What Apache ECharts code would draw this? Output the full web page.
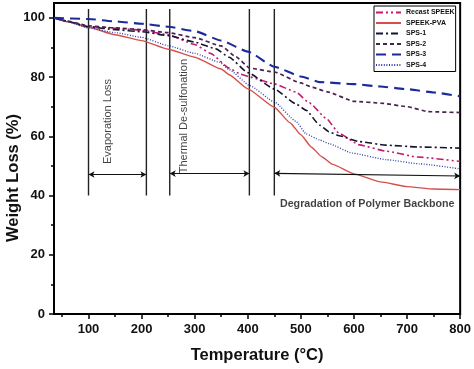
<!DOCTYPE html>
<html><head><meta charset="utf-8">
<script src="https://cdn.jsdelivr.net/npm/echarts@6/dist/echarts.min.js"></script>
<style>html,body{margin:0;padding:0;background:#fff}#c{width:474px;height:369px}</style>
</head><body><div id="c"></div>
<script>
// ---- data ----
const recastSpeek = [[35,100],[60,98.8],[100,97],[150,96.5],[200,95.8],[250,94.3],[300,91],[330,88],[365,83],[386,81],[404,80],[450,77.7],[490,75],[516,71.3],[548,66],[572,61],[610,57.1],[660,55],[720,53],[800,51.5]];
const speekPva = [[35,100],[60,98.7],[100,96.8],[150,94.3],[200,92.3],[250,89.4],[300,86.7],[350,82.7],[365,80.8],[400,76],[450,69.8],[480,64.5],[500,60.5],[520,56.3],[540,53],[560,50.5],[600,47.3],[650,44.6],[700,43],[750,42.2],[800,42]];
const sps1 = [[35,100],[60,98.8],[100,97],[150,96],[200,95.3],[250,94],[300,91.8],[340,89.5],[365,86.7],[400,81.5],[450,76],[490,71],[510,68.8],[535,63.8],[553,61.5],[572,60.2],[610,58.2],[660,57],[720,56.4],[800,56]];
const sps2 = [[35,100],[60,98.9],[100,97.3],[150,96.6],[200,96],[250,95],[300,93.3],[350,90.5],[378,86.8],[404,83],[450,81.7],[500,78],[522,76.5],[550,75],[600,71.8],[650,71.2],[700,70],[740,68.3],[800,68]];
const sps3 = [[35,100],[100,99.6],[150,98.8],[200,98],[250,97],[300,95.5],[350,92.3],[400,88.6],[450,83.5],[500,80.2],[535,78.3],[600,77.6],[650,76.8],[700,75.9],[750,74.8],[800,73.5]];
const sps4 = [[35,100],[60,98.6],[100,96.6],[150,95],[200,93.4],[250,90.6],[300,88],[347,85],[365,82.5],[404,77.1],[450,71.6],[491,65],[510,60.8],[535,58.8],[553,57.5],[597,54.3],[661,52.1],[723,50.7],[800,49]];

const seriesNames = ['Recast SPEEK','SPEEK-PVA','SPS-1','SPS-2','SPS-3','SPS-4'];
const xTicks = [100,200,300,400,500,600,700,800];
const xMinorTicks = [50,150,250,350,450,550,650,750];
const yTicks = [0,20,40,60,80,100];
const yMinorTicks = [10,30,50,70,90];

// region boundaries (temperature) and their vertical extent (weight %)
const regionLines = [100,209,253,403,450];
const regionLineRange = [40,103];
// double-headed arrows: [fromT, fromW, toT, toW]
const arrows = [[100,47.1,209,47.1],[253,47.4,403,47.4],[450,47.5,800,46.6]];
const annotations = [
  {text:'Evaporation Loss', pos:[137,65], rotate:90, bold:false},
  {text:'Thermal De-sulfonation', pos:[280,66.8], rotate:90, bold:false},
  {text:'Degradation of Polymer Backbone', pos:[625,37], rotate:0, bold:true}
];

const FONT = 'Liberation Sans, Arial, sans-serif';
const styles = [
  {color:'#c8186e', type:[7,3,2,3,2,3], width:1.6},
  {color:'#d4504c', type:'solid', width:1.4},
  {color:'#141430', type:[7,3,2,3], width:1.6},
  {color:'#4a2250', type:[4,3], width:1.7},
  {color:'#1c2a9a', type:[10,6], width:2.1},
  {color:'#2a3aaa', type:[1,1.6], width:1.3}
];
const dataSets = [recastSpeek, speekPva, sps1, sps2, sps3, sps4];

const series = dataSets.map((d,i)=>({
  name: seriesNames[i], type:'line', data:d, showSymbol:false, symbol:'none', legendIcon:'none',
  smooth:0.15, smoothMonotone:'x', xAxisIndex:0, yAxisIndex:0, z:3,
  lineStyle:{color:styles[i].color, type:styles[i].type, width:styles[i].width},
  itemStyle:{color:styles[i].color}
}));

regionLines.forEach(t=>{
  series.push({type:'line', data:[[t,regionLineRange[0]],[t,regionLineRange[1]]], showSymbol:false, symbol:'none',
    silent:true, z:2, lineStyle:{color:'#222', width:1.4}});
});

series.push({type:'line', data:[], silent:true, z:4,
  markLine:{silent:true, symbol:['arrow','arrow'], symbolSize:[5,6], label:{show:false},
    lineStyle:{color:'#111', width:1.2, type:'solid'},
    data: arrows.map(a=>[{coord:[a[0],a[1]]},{coord:[a[2],a[3]]}])}
});

annotations.forEach(a=>{
  series.push({type:'scatter', data:[a.pos], symbolSize:0, silent:true, z:5,
    label:{show:true, position:'inside', formatter:a.text, rotate:a.rotate, color:'#111',
      fontFamily:FONT, fontSize:a.bold?10.7:11, fontWeight:a.bold?'bold':'normal'}});
});

const chart = echarts.init(document.getElementById('c'));
chart.setOption({
  animation:false,
  backgroundColor:'#fff',
  grid:{left:54, right:13, top:3, bottom:51, show:true, borderColor:'#000', borderWidth:2, backgroundColor:'transparent'},
  legend:{
    data:seriesNames, orient:'vertical', left:374, top:6,
    borderColor:'#000', borderWidth:1, padding:[3,1,3,1],
    itemWidth:25, itemHeight:8, itemGap:3.5, backgroundColor:'#fff',
    itemStyle:{opacity:0, borderWidth:0},
    textStyle:{fontFamily:FONT, fontSize:7, fontWeight:'bold', color:'#111'}
  },
  xAxis:[{
    type:'value', min:35, max:800, gridIndex:0,
    name:'Temperature (\u00B0C)', nameLocation:'middle', nameGap:33,
    nameTextStyle:{fontFamily:FONT, fontSize:16.5, fontWeight:'bold', color:'#111'},
    axisLine:{show:true, lineStyle:{color:'#000', width:2}},
    axisTick:{show:true, inside:false, length:5, customValues:xTicks, lineStyle:{color:'#000', width:1.5}},
    axisLabel:{customValues:xTicks, margin:9, fontFamily:FONT, fontSize:13, fontWeight:'bold', color:'#111'},
    splitLine:{show:false}
  },{
    type:'value', min:35, max:800, gridIndex:0, position:'bottom',
    axisLine:{show:false},
    axisTick:{show:true, inside:false, length:3, customValues:xMinorTicks, lineStyle:{color:'#000', width:1.5}},
    axisLabel:{show:false}, splitLine:{show:false}
  }],
  yAxis:[{
    type:'value', min:0, max:105, gridIndex:0,
    axisLine:{show:true, lineStyle:{color:'#000', width:2}},
    axisTick:{show:true, inside:false, length:5, customValues:yTicks, lineStyle:{color:'#000', width:1.5}},
    axisLabel:{customValues:yTicks, margin:9, fontFamily:FONT, fontSize:13, fontWeight:'bold', color:'#111'},
    splitLine:{show:false}
  },{
    type:'value', min:0, max:105, gridIndex:0, position:'left',
    axisLine:{show:false},
    axisTick:{show:true, inside:false, length:3, customValues:yMinorTicks, lineStyle:{color:'#000', width:1.5}},
    axisLabel:{show:false}, splitLine:{show:false}
  }],
  graphic:[{
    type:'text', rotation:Math.PI/2,
    x:13, y:178,
    style:{text:'Weight Loss (%)', font:'bold 16.5px '+FONT, fill:'#111', textAlign:'center', textVerticalAlign:'middle'}
  }],
  series: series
});
</script>
</body></html>
